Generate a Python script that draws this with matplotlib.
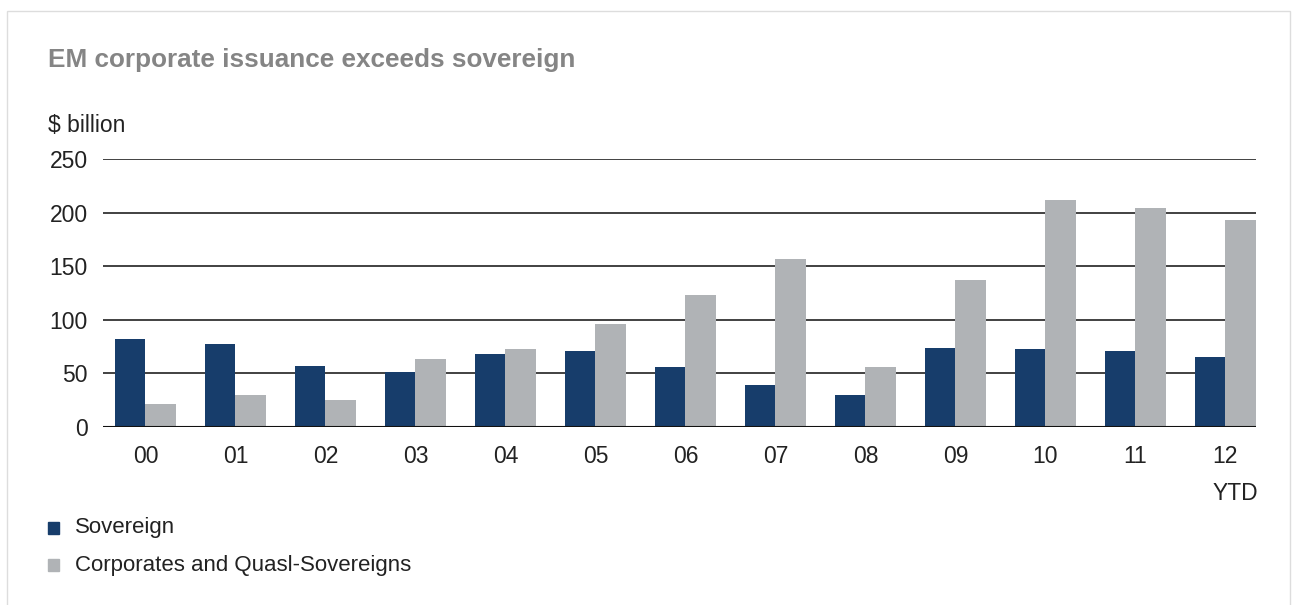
import numpy as np
from matplotlib import pyplot as plt
from matplotlib.patches import Rectangle

years = ["00", "01", "02", "03", "04", "05", "06", "07", "08", "09", "10", "11", "12"]
sovereign = [82, 77, 57, 51, 68, 71, 56, 39, 30, 74, 73, 71, 65]
corporates = [21, 30, 25, 63, 73, 96, 123, 157, 56, 137, 212, 204, 193]
yticks = [0, 50, 100, 150, 200, 250]

navy = "#173d6b"
grey = "#b0b3b6"
text_col = "#222222"

plt.rcParams["font.family"] = ["Liberation Sans", "DejaVu Sans"]

fig = plt.figure(figsize=(12.95, 6.05), dpi=100)
# light frame round the whole card
fig.patches.append(Rectangle((7 / 1295, -0.1), 1283 / 1295, 1 - 11 / 605 + 0.1,
                             transform=fig.transFigure, fill=False,
                             edgecolor="#dddddd", linewidth=1))

ax = fig.add_axes([103 / 1295, 1 - 427 / 605, (1256 - 103) / 1295, (427 - 159) / 605])

x = np.arange(len(years))
w = 0.335
ax.bar(x - w / 2, sovereign, width=w, color=navy, zorder=3)
ax.bar(x + w / 2, corporates, width=w, color=grey, zorder=3)

ax.set_xlim(-0.472, 12.34)
ax.set_ylim(0, 250)
ax.set_yticks(yticks)
ax.set_xticks(x)
ax.set_xticklabels(years)
ax.yaxis.grid(True, color="#333333", linewidth=1.3, zorder=1)
ax.axhline(0, color="#111111", linewidth=1.5, zorder=4)
for s in ax.spines.values():
    s.set_visible(False)
ax.tick_params(length=0, labelsize=16.5, colors=text_col)
ax.tick_params(axis="y", pad=11)
ax.tick_params(axis="x", pad=13)

fig.text(48 / 1295, 1 - 60 / 605, "EM corporate issuance exceeds sovereign",
         fontsize=18.8, color="#858585", fontweight="bold", va="center")
fig.text(48 / 1295, 1 - 125 / 605, "$ billion", fontsize=16.5, color=text_col, va="center")
fig.text(1235 / 1295, 1 - 493 / 605, "YTD", fontsize=16.5, color=text_col, va="center", ha="center")

# legend
for i, (lab, col) in enumerate([("Sovereign", navy), ("Corporates and Quasl-Sovereigns", grey)]):
    yc = 1 - (528 + 37 * i) / 605
    fig.patches.append(Rectangle((48 / 1295, yc - 6 / 605), 11 / 1295, 12 / 605,
                                 transform=fig.transFigure, color=col))
    fig.text(75 / 1295, yc, lab, fontsize=16, color=text_col, va="center")

fig.savefig("out.png", dpi=100)
